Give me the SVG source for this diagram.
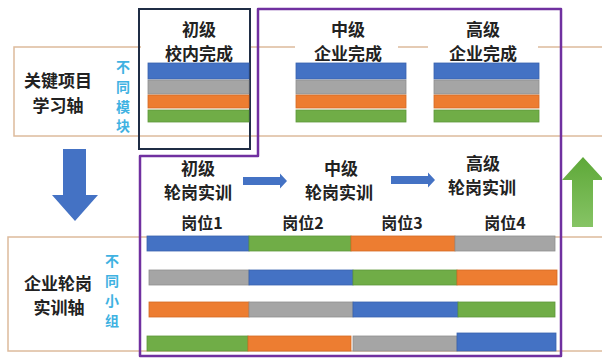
<svg xmlns="http://www.w3.org/2000/svg" width="602" height="358" viewBox="0 0 602 358">
<defs>
<linearGradient id="gUp" x1="0" y1="0" x2="0" y2="1">
<stop offset="0" stop-color="#5EA838"/>
<stop offset="1" stop-color="#86C465"/>
</linearGradient>
<style>
.axis{fill:none;stroke:#DDBB9C;stroke-width:1.5}
.t{font-family:"Noto Sans CJK SC","Liberation Sans",sans-serif;font-weight:bold;fill:#222;text-anchor:middle}
.t18{font-size:17px}
.t17{font-size:17px}
.t16{font-size:16px}
.cy{font-family:"Noto Sans CJK SC",sans-serif;font-weight:bold;font-size:14px;fill:#3FB2E2;text-anchor:middle}
.b{fill:#4472C4;stroke:#3A63AE;stroke-width:0.8}
.g{fill:#A5A5A5;stroke:#8F8F8F;stroke-width:0.8}
.o{fill:#ED7D31;stroke:#D46A24;stroke-width:0.8}
.n{fill:#70AD47;stroke:#5E973A;stroke-width:0.8}
.bg{fill:#FFFFFF}
</style>
</defs>
<rect width="602" height="358" fill="#FFFFFF"/>

<g id="project-axis">
<rect class="axis" x="14" y="47" width="600" height="89"/>
<text class="t t17"><tspan x="58" y="86.5">关键项目</tspan><tspan x="58" y="111.5">学习轴</tspan></text>
<text class="cy"><tspan x="123" y="72">不</tspan><tspan x="123" y="92">同</tspan><tspan x="123" y="112">模</tspan><tspan x="123" y="131">块</tspan></text>
</g>

<g id="training-axis">
<rect class="axis" x="8" y="237" width="606" height="114"/>
<text class="t t17"><tspan x="58" y="289.5">企业轮岗</tspan><tspan x="59" y="313.5">实训轴</tspan></text>
<text class="cy"><tspan x="112" y="266">不</tspan><tspan x="112" y="286">同</tspan><tspan x="112" y="306">小</tspan><tspan x="112" y="326">组</tspan></text>
</g>

<g id="school-primary">
<rect class="bg" x="141" y="40" width="108" height="20"/>
<rect x="139" y="9" width="111" height="140" fill="none" stroke="#1F2D45" stroke-width="2"/>
<text class="t t18"><tspan x="199" y="35.5">初级</tspan><tspan x="199" y="59.5">校内完成</tspan></text>
<rect class="b" x="148" y="63" width="101" height="16"/>
<rect class="g" x="148" y="80" width="101" height="14"/>
<rect class="o" x="148" y="95" width="101" height="13"/>
<rect class="n" x="148" y="110" width="101" height="12"/>
</g>

<g id="enterprise-boundary">
<path d="M140,356 L140,156 L258,156 L258,9 L561,9 L561,356 Z" fill="none" stroke="#7030A0" stroke-width="2.5" stroke-linejoin="round"/>
</g>

<g id="enterprise-middle">
<rect class="bg" x="295" y="40" width="103" height="20"/>
<text class="t t18"><tspan x="348" y="35.5">中级</tspan><tspan x="348" y="59.5">企业完成</tspan></text>
<rect class="b" x="296" y="63" width="110" height="16"/>
<rect class="g" x="296" y="80" width="110" height="14"/>
<rect class="o" x="296" y="95" width="110" height="13"/>
<rect class="n" x="296" y="110" width="110" height="12"/>
</g>

<g id="enterprise-high">
<rect class="bg" x="428" y="40" width="110" height="20"/>
<text class="t t18"><tspan x="483" y="35.5">高级</tspan><tspan x="483" y="59.5">企业完成</tspan></text>
<rect class="b" x="434" y="63" width="105" height="16"/>
<rect class="g" x="434" y="80" width="105" height="14"/>
<rect class="o" x="434" y="95" width="105" height="13"/>
<rect class="n" x="434" y="110" width="105" height="12"/>
</g>

<g id="rotation-primary">
<text class="t t18"><tspan x="198" y="175">初级</tspan><tspan x="198" y="199">轮岗实训</tspan></text>
</g>
<g id="rotation-middle">
<text class="t t18"><tspan x="341" y="175">中级</tspan><tspan x="339" y="199">轮岗实训</tspan></text>
</g>
<g id="rotation-high">
<text class="t t18"><tspan x="483" y="170">高级</tspan><tspan x="482" y="194">轮岗实训</tspan></text>
</g>

<g id="posts">
<text class="t t16" x="202" y="229">岗位1</text>
<text class="t t16" x="303" y="229">岗位2</text>
<text class="t t16" x="402" y="229">岗位3</text>
<text class="t t16" x="505" y="229">岗位4</text>
</g>

<g id="rotation-bars">
<rect class="b" x="147" y="236" width="102" height="15"/>
<rect class="n" x="249" y="236" width="102" height="15"/>
<rect class="o" x="351" y="236" width="104" height="15"/>
<rect class="g" x="455" y="236" width="100" height="15"/>

<rect class="g" x="149" y="270" width="100" height="15"/>
<rect class="b" x="249" y="270" width="104" height="15"/>
<rect class="n" x="353" y="270" width="104" height="15"/>
<rect class="o" x="457" y="270" width="100" height="15"/>

<rect class="o" x="149" y="302" width="100" height="15"/>
<rect class="g" x="249" y="302" width="104" height="15"/>
<rect class="b" x="353" y="302" width="105" height="15"/>
<rect class="n" x="458" y="302" width="97" height="15"/>

<rect class="n" x="147" y="336" width="101" height="15"/>
<rect class="o" x="248" y="336" width="103" height="15"/>
<rect class="g" x="353" y="336" width="104" height="15"/>
<rect class="b" x="457" y="333" width="99" height="18"/>
</g>

<g id="connectors">
<path d="M63,149 L86,149 L86,195 L98,195 L75,221 L52,195 L63,195 Z" fill="#4472C4"/>
<path d="M572,227 L572,180 L562,180 L583,157 L604,180 L593,180 L593,227 Z" fill="url(#gUp)"/>
<path d="M243,177 L280,177 L280,173.5 L287,181 L280,188.5 L280,185 L243,185 Z" fill="#4472C4"/>
<path d="M391,176 L428,176 L428,172.5 L435,180 L428,187.5 L428,184 L391,184 Z" fill="#4472C4"/>
</g>
</svg>
